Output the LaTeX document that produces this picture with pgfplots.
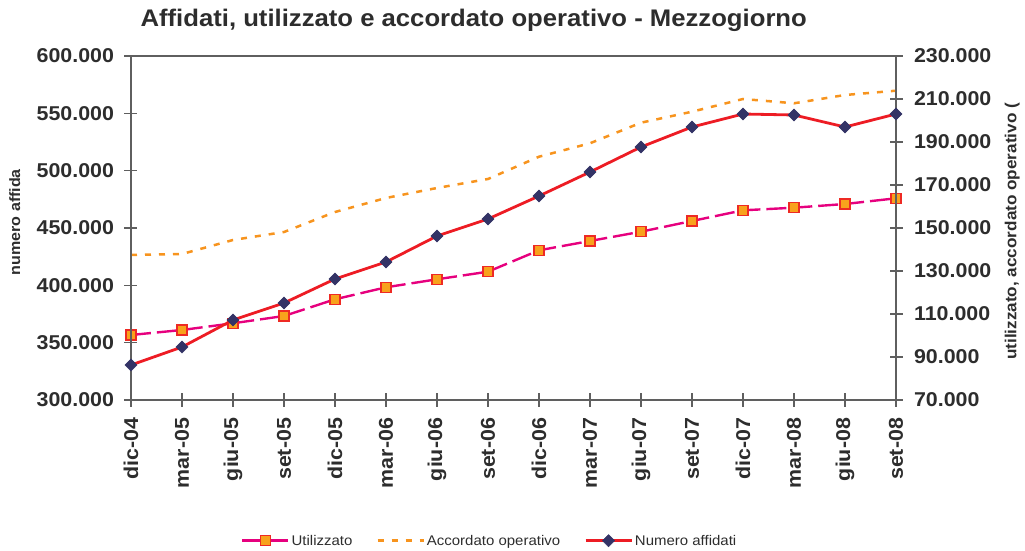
\documentclass[border=0pt]{standalone}
\usepackage{fontspec}
\setmainfont{Liberation Sans}[FakeStretch=1.07]
\usepackage{pgfplots}
\pgfplotsset{compat=1.18}

\definecolor{numred}{RGB}{237,28,36}
\definecolor{navy}{RGB}{51,51,102}
\definecolor{magent}{RGB}{230,0,126}
\definecolor{sqorange}{RGB}{248,162,28}
\definecolor{sqborder}{RGB}{238,42,36}
\definecolor{accorange}{RGB}{247,148,30}
\definecolor{txt}{RGB}{45,45,45}
\definecolor{axgray}{RGB}{95,95,95}

\pgfplotsset{
  common/.style={
    scale only axis, width=765pt, height=344pt,
    at={(0pt,0pt)}, anchor=south west,
    xmin=0, xmax=15, clip=false,
    scaled y ticks=false,
    /pgf/number format/assume math mode=true,
    /pgf/number format/fixed,
    /pgf/number format/precision=0,
    /pgf/number format/1000 sep={.},
    axis line style={-, draw=axgray, line width=1.3pt},
    tick style={draw=axgray, line width=1.3pt},
    major tick length=13pt, tick align=center,
    ticklabel style={font=\bfseries\fontsize{20}{24}\selectfont, text=txt},
  },
  numstyle/.style={numred, line width=2.8pt, mark=square*, mark size=4.3pt,
    mark options={rotate=45, fill=navy, draw=navy, line width=0.5pt, solid}},
  utstyle/.style={magent, line width=2.4pt, dash pattern=on 20pt off 6pt,
    mark=square*, mark size=5pt,
    mark options={fill=sqorange, draw=sqborder, line width=1.2pt, solid}},
  accstyle/.style={accorange, line width=2.5pt, dash pattern=on 6pt off 8pt},
}

\begin{document}
\begin{tikzpicture}
\useasboundingbox (-131pt,-151pt) rectangle (894pt,400pt);

% right axis: utilizzato, accordato
\begin{axis}[common,
  hide x axis,
  axis y line*=right,
  ymin=70000, ymax=230000,
  ytick={70000,90000,110000,130000,150000,170000,190000,210000,230000},
  yticklabel style={xshift=8pt},
  ylabel={utilizzato, accordato operativo (},
  every axis y label/.style={at={(axis description cs:1.152,0.49)}, rotate=90, anchor=center,
    font=\bfseries\fontsize{16}{19}\selectfont, text=txt},
  legend columns=3,
  legend cell align=left,
  legend style={at={(0.469,-0.409)}, anchor=center, draw=none, fill=none,
    font=\fontsize{14}{17}\selectfont, text=txt,
    /tikz/every even column/.append style={column sep=22pt}},
  legend image code/.code={\draw[mark repeat=2,mark phase=2,#1] plot coordinates {(0pt,0pt) (23pt,0pt) (46pt,0pt)};},
]
\addplot[utstyle] coordinates {(0,100240) (1,102560) (2,105680) (3,109070) (4,116840) (5,122420) (6,126140) (7,129680) (8,139630) (9,143960) (10,148280) (11,153260) (12,158230) (13,159440) (14,161160) (15,163820)};
\addlegendentry{Utilizzato}
\addplot[accstyle] coordinates {(0,137440) (1,137910) (2,144420) (3,148140) (4,157440) (5,163960) (6,168610) (7,172790) (8,183160) (9,189400) (10,198980) (11,204090) (12,210000) (13,208000) (14,211860) (15,213860)};
\addlegendentry{Accordato operativo}
\addlegendimage{numstyle}
\addlegendentry{Numero affidati}
\end{axis}

% left axis: numero affidati
\begin{axis}[common,
  ymin=300000, ymax=600000,
  ytick={300000,350000,400000,450000,500000,550000,600000},
  ytick pos=left, xtick pos=bottom,
  yticklabel style={xshift=-7pt},
  xtick={0,...,15},
  xticklabels={dic-04,mar-05,giu-05,set-05,dic-05,mar-06,giu-06,set-06,dic-06,mar-07,giu-07,set-07,dic-07,mar-08,giu-08,set-08},
  xticklabel style={rotate=90, anchor=east, xshift=-8pt},
  ylabel={numero affida},
  every axis y label/.style={at={(axis description cs:-0.152,0.517)}, rotate=90, anchor=center,
    font=\bfseries\fontsize{15}{18}\selectfont, text=txt},
  title={Affidati, utilizzato e accordato operativo - Mezzogiorno},
  title style={at={(axis description cs:0.448,1.085)}, anchor=center,
    font=\bfseries\fontsize{24}{28}\selectfont, text=txt},
]
\addplot[numstyle] coordinates {(0,330500) (1,346200) (2,369770) (3,384600) (4,405530) (5,420350) (6,443020) (7,457850) (8,477900) (9,498840) (10,520640) (11,538080) (12,549420) (13,548550) (14,538080) (15,549420)};
\end{axis}
\end{tikzpicture}
\end{document}
